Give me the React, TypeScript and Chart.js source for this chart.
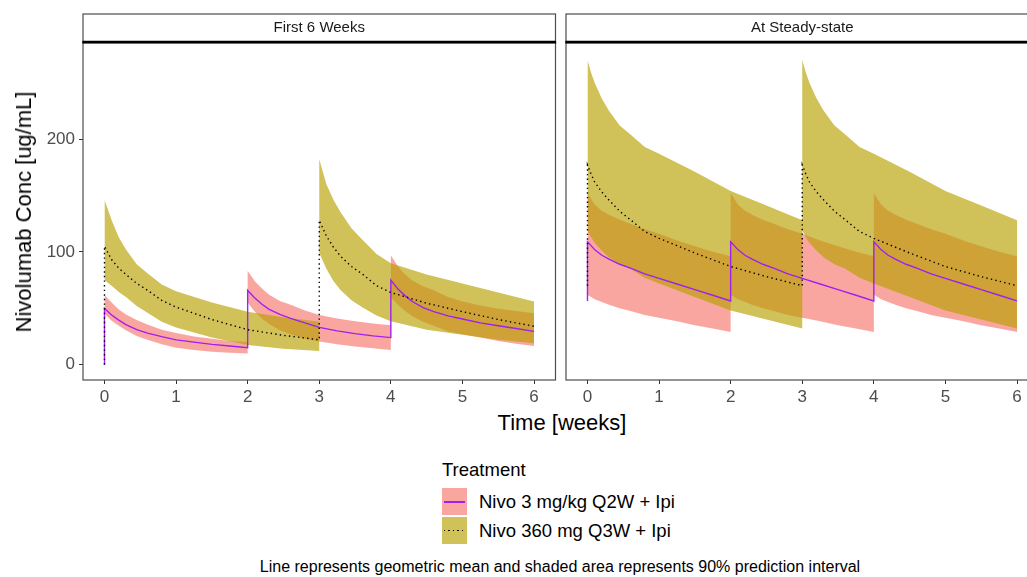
import React, { useEffect, useRef } from "react";
import { Chart, registerables } from "chart.js";

Chart.register(...registerables);

// ---- data -------------------------------------------------------------
const PANEL_TITLES = ["First 6 Weeks", "At Steady-state"];
const SERIES_NAMES = ["Nivo 3 mg/kg Q2W + Ipi", "Nivo 360 mg Q3W + Ipi"];
const X_TICKS = [0, 1, 2, 3, 4, 5, 6];
const Y_TICKS = [0, 100, 200];

// time grid (weeks); each dose time appears twice: trough, then peak
const TIME_Q2W = [
  0, 0.05, 0.1, 0.2, 0.3, 0.45, 0.6, 0.8, 1, 1.25, 1.5, 1.75, 2,
  2, 2.05, 2.1, 2.2, 2.3, 2.45, 2.6, 2.8, 3, 3.25, 3.5, 3.75, 4,
  4, 4.05, 4.1, 4.2, 4.3, 4.45, 4.6, 4.8, 5, 5.25, 5.5, 5.75, 6,
];
const TIME_Q3W = [
  0, 0.05, 0.1, 0.2, 0.3, 0.45, 0.6, 0.8, 1, 1.5, 2, 2.5, 3,
  3, 3.05, 3.1, 3.2, 3.3, 3.45, 3.6, 3.8, 4, 4.5, 5, 5.5, 6,
];

// First 6 weeks - Q2W (geometric mean, 5th and 95th percentiles)
const FIRST_Q2W_START = 0;
const FIRST_Q2W_MEAN = [
  50, 47, 44, 39.5, 35.5, 31, 28, 24.8, 22, 20, 18, 16.5, 15,
  66, 62.5, 59, 53.5, 49, 44.5, 41, 37, 33, 30, 27.5, 25.5, 24,
  75, 71, 67, 61, 56, 50.5, 47, 43.3, 40.5, 37, 34.5, 32, 29.5,
];
const FIRST_Q2W_HI = [
  62, 58.5, 55, 49, 44.5, 39.5, 35.5, 31, 28, 25, 23, 21, 20,
  83, 78.5, 74, 67.5, 62, 56.5, 53, 48, 44, 41, 38.5, 36.5, 35,
  97, 92, 87, 80, 74.5, 69.5, 66, 60, 56, 52.5, 49.5, 47.5, 45.5,
];
const FIRST_Q2W_LO = [
  45, 42, 39, 34.5, 30.5, 25.5, 22, 18, 15, 13, 11.5, 10.5, 10,
  55, 51, 47, 41, 36, 30.5, 27, 23, 20.5, 18, 16, 14.5, 13,
  60, 56.5, 53, 47.5, 43, 38, 34.5, 29.5, 27, 24, 21, 18.5, 16.5,
];

// First 6 weeks - Q3W
const FIRST_Q3W_START = 0;
const FIRST_Q3W_MEAN = [
  105, 99, 93, 85.5, 80, 72, 66, 57, 51, 40, 31, 26, 22,
  128, 121, 114, 104, 96, 87, 80.5, 70, 64, 54.5, 47, 40, 34,
];
const FIRST_Q3W_HI = [
  146, 137, 128, 113, 102, 89, 81, 71, 65, 55, 47, 42, 38,
  182, 171, 160, 146, 135, 121, 111, 98, 90, 80, 72, 64, 56,
];
const FIRST_Q3W_LO = [
  75, 72.5, 70, 64.5, 60, 52, 46, 38, 33, 24, 17.5, 14, 12,
  99, 92, 85, 74, 66, 57, 51, 43.5, 38.5, 31, 26.5, 22, 19,
];

// Steady state - Q2W
const SS_Q2W_START = 56.5;
const SS_Q2W_MEAN = [
  109, 105.5, 102, 97, 93.5, 89, 85.5, 80.5, 76.5, 71.5, 66.5, 61.5, 56.5,
  109, 105.5, 102, 97, 93.5, 89, 85.5, 80.5, 76.5, 71.5, 66.5, 61.5, 56.5,
  109, 105.5, 102, 97, 93.5, 89, 85.5, 80.5, 76.5, 71.5, 66.5, 61.5, 56.5,
];
const SS_Q2W_HI = [
  152, 147, 142, 136.5, 133, 128.5, 125, 120, 116, 110, 105, 100, 96,
  152, 147, 142, 136.5, 133, 128.5, 125, 120, 116, 110, 105, 100, 96,
  152, 147, 142, 136.5, 133, 128.5, 125, 120, 116, 110, 105, 100, 96,
];
const SS_Q2W_LO = [
  62, 60, 58, 55.5, 53, 50, 47.5, 44, 41.5, 38.5, 35, 32, 29,
  62, 60, 58, 55.5, 53, 50, 47.5, 44, 41.5, 38.5, 35, 32, 29,
  62, 60, 58, 55.5, 53, 50, 47.5, 44, 41.5, 38.5, 35, 32, 29,
];

// Steady state - Q3W
const SS_Q3W_START = 70;
const SS_Q3W_MEAN = [
  177, 169, 162, 153, 146, 136, 128.5, 118, 112, 99, 87, 78, 70,
  177, 169, 162, 153, 146, 136, 128.5, 118, 112, 99, 87, 78, 70,
];
const SS_Q3W_HI = [
  270, 259, 250, 236, 225, 212, 204, 193, 187, 171, 154, 141, 128,
  270, 259, 250, 236, 225, 212, 204, 193, 187, 171, 154, 141, 128,
];
const SS_Q3W_LO = [
  119, 113, 108, 101, 95, 89, 85, 77, 72, 60, 48, 40, 32,
  119, 113, 108, 101, 95, 89, 85, 77, 72, 60, 48, 40, 32,
];

// ---- styling ----------------------------------------------------------
const FONT = '"Liberation Sans", Arial, Helvetica, sans-serif';
const PINK_FILL = "rgba(248,118,109,0.65)";
const OLIVE_FILL = "rgba(183,159,0,0.65)";
const PURPLE = "#A020F0";
const STRIP_TOP = 14;

type Profile = { start: number; mean: number[]; hi: number[]; lo: number[] };

const pts = (times: number[], vals: number[]) =>
  times.map((t, i) => ({ x: t, y: vals[i] }));

// strip header + panel frame, drawn over each facet
const facetPlugin = {
  id: "facet",
  afterDraw(chart: any, _args: any, opts: any) {
    const { ctx, chartArea } = chart;
    const { left, right, top, bottom } = chartArea;
    ctx.save();
    ctx.strokeStyle = "#4d4d4d";
    ctx.lineWidth = 1.2;
    ctx.strokeRect(left, top, right - left, bottom - top);
    ctx.fillStyle = "#ffffff";
    ctx.fillRect(left, STRIP_TOP, right - left, top - STRIP_TOP);
    ctx.strokeRect(left, STRIP_TOP, right - left, top - STRIP_TOP);
    ctx.strokeStyle = "#000000";
    ctx.lineWidth = 2.7;
    ctx.beginPath();
    ctx.moveTo(left - 0.6, top - 0.3);
    ctx.lineTo(right + 0.6, top - 0.3);
    ctx.stroke();
    ctx.fillStyle = "#1a1a1a";
    ctx.font = `15px ${FONT}`;
    ctx.textAlign = "center";
    ctx.textBaseline = "middle";
    ctx.fillText(opts.title, (left + right) / 2, (STRIP_TOP + top) / 2);
    ctx.restore();
  },
};

function makePanel(
  canvas: HTMLCanvasElement,
  title: string,
  showY: boolean,
  padLeft: number,
  padRight: number,
  q2w: Profile,
  q3w: Profile
) {
  const tickGrid = {
    display: true,
    drawOnChartArea: false,
    drawTicks: true,
    tickLength: 4,
    color: "#333333",
    lineWidth: 1,
  };
  const tickFont = { family: FONT, size: 17 };
  const ribbon = (data: any[], extra: any) => ({
    data,
    borderColor: "transparent",
    borderWidth: 0,
    pointRadius: 0,
    tension: 0,
    ...extra,
  });

  return new Chart(canvas, {
    type: "line",
    data: {
      datasets: [
        {
          label: SERIES_NAMES[1],
          data: pts([0, ...TIME_Q3W], [q3w.start, ...q3w.mean]),
          borderColor: "#000000",
          borderWidth: 1.4,
          borderDash: [1.4, 3.2],
          borderCapStyle: "butt",
          pointRadius: 0,
          fill: false,
          tension: 0,
          order: 0,
        },
        {
          label: SERIES_NAMES[0],
          data: pts([0, ...TIME_Q2W], [q2w.start, ...q2w.mean]),
          borderColor: PURPLE,
          borderWidth: 1.4,
          pointRadius: 0,
          fill: false,
          tension: 0,
          order: 1,
        },
        ribbon(pts(TIME_Q3W, q3w.hi), { fill: { target: 3 }, backgroundColor: OLIVE_FILL, order: 2 }),
        ribbon(pts(TIME_Q3W, q3w.lo), { fill: false, order: 3 }),
        ribbon(pts(TIME_Q2W, q2w.hi), { fill: { target: 5 }, backgroundColor: PINK_FILL, order: 4 }),
        ribbon(pts(TIME_Q2W, q2w.lo), { fill: false, order: 5 }),
      ],
    } as any,
    options: {
      responsive: false,
      animation: false,
      events: [],
      layout: { padding: { left: padLeft, right: padRight, top: 42.5, bottom: 0 } },
      plugins: {
        legend: { display: false },
        tooltip: { enabled: false },
        facet: { title },
      } as any,
      scales: {
        x: {
          type: "linear",
          min: -0.3,
          max: 6.3,
          afterBuildTicks: (s: any) => {
            s.ticks = X_TICKS.map((v) => ({ value: v }));
          },
          afterFit: (s: any) => {
            s.height = 30;
          },
          grid: tickGrid,
          border: { display: false },
          ticks: { font: tickFont, color: "#4D4D4D", padding: 3, maxRotation: 0, autoSkip: false },
        },
        y: {
          type: "linear",
          display: showY,
          min: -13.6,
          max: 285.6,
          afterBuildTicks: (s: any) => {
            s.ticks = Y_TICKS.map((v) => ({ value: v }));
          },
          afterFit: (s: any) => {
            s.width = showY ? 83 : 0;
          },
          grid: tickGrid,
          border: { display: false },
          ticks: { font: tickFont, color: "#4D4D4D", padding: 4 },
        },
      },
    } as any,
    plugins: [facetPlugin],
  });
}

export default function App() {
  const leftRef = useRef<HTMLCanvasElement>(null);
  const rightRef = useRef<HTMLCanvasElement>(null);

  useEffect(() => {
    const charts = [
      makePanel(
        leftRef.current!,
        PANEL_TITLES[0],
        true,
        0,
        4.5,
        { start: FIRST_Q2W_START, mean: FIRST_Q2W_MEAN, hi: FIRST_Q2W_HI, lo: FIRST_Q2W_LO },
        { start: FIRST_Q3W_START, mean: FIRST_Q3W_MEAN, hi: FIRST_Q3W_HI, lo: FIRST_Q3W_LO }
      ),
      makePanel(
        rightRef.current!,
        PANEL_TITLES[1],
        false,
        6,
        11.5,
        { start: SS_Q2W_START, mean: SS_Q2W_MEAN, hi: SS_Q2W_HI, lo: SS_Q2W_LO },
        { start: SS_Q3W_START, mean: SS_Q3W_MEAN, hi: SS_Q3W_HI, lo: SS_Q3W_LO }
      ),
    ];
    return () => charts.forEach((c) => c.destroy());
  }, []);

  const text = (extra: React.CSSProperties): React.CSSProperties => ({
    position: "absolute",
    fontFamily: FONT,
    whiteSpace: "nowrap",
    lineHeight: 1,
    ...extra,
  });

  return (
    <div
      style={{
        position: "fixed",
        left: 0,
        top: 0,
        width: 1027,
        height: 577,
        overflow: "hidden",
        background: "#ffffff",
      }}
    >
      <canvas
        ref={leftRef}
        width={560}
        height={410}
        style={{ position: "absolute", left: 0, top: 0, width: 560, height: 410 }}
      />
      <canvas
        ref={rightRef}
        width={490}
        height={410}
        style={{ position: "absolute", left: 560, top: 0, width: 490, height: 410 }}
      />

      <div
        style={text({
          left: 24,
          top: 212,
          fontSize: 22,
          color: "#000",
          transform: "translate(-50%, -50%) rotate(-90deg)",
        })}
      >
        Nivolumab Conc [ug/mL]
      </div>
      <div style={text({ left: 562, top: 423, fontSize: 22, color: "#000", transform: "translate(-50%, -50%)" })}>
        Time [weeks]
      </div>

      <div style={text({ left: 442, top: 470, fontSize: 18.5, color: "#000", transform: "translateY(-50%)" })}>
        Treatment
      </div>

      <div style={{ position: "absolute", left: 442, top: 488, width: 25, height: 27, background: PINK_FILL }}>
        <div style={{ position: "absolute", left: 2, top: 12.5, width: 21, height: 2, background: PURPLE }} />
      </div>
      <div style={{ position: "absolute", left: 442, top: 517, width: 25, height: 27, background: OLIVE_FILL }}>
        <div
          style={{
            position: "absolute",
            left: 2,
            top: 12.7,
            width: 21,
            height: 1.6,
            background: "repeating-linear-gradient(to right, #000 0 1.5px, transparent 1.5px 4.5px)",
          }}
        />
      </div>
      <div style={text({ left: 479, top: 502, fontSize: 18.5, color: "#000", transform: "translateY(-50%)" })}>
        {SERIES_NAMES[0]}
      </div>
      <div style={text({ left: 479, top: 531, fontSize: 18.5, color: "#000", transform: "translateY(-50%)" })}>
        {SERIES_NAMES[1]}
      </div>

      <div style={text({ left: 560, top: 567, fontSize: 16, color: "#000", transform: "translate(-50%, -50%)" })}>
        Line represents geometric mean and shaded area represents 90% prediction interval
      </div>
    </div>
  );
}
